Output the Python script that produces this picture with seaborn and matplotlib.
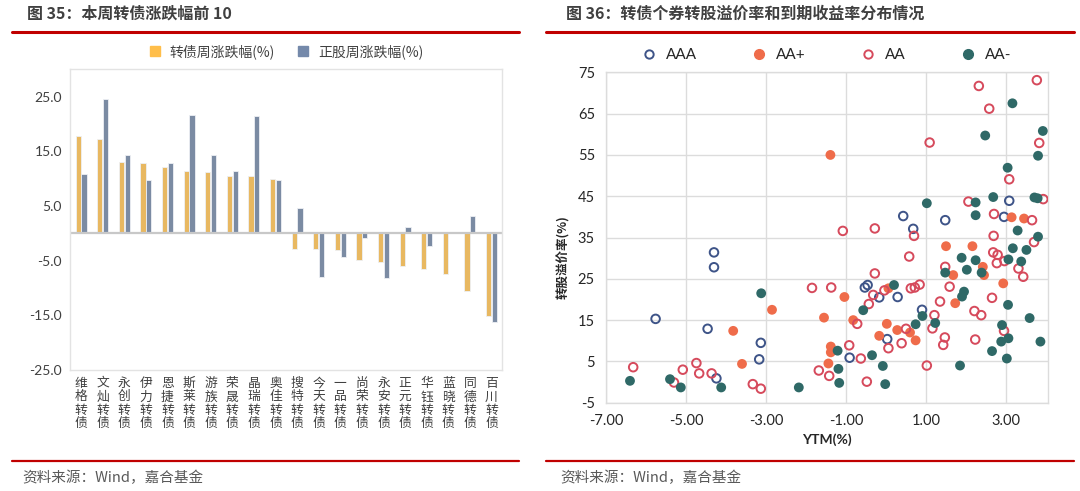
import matplotlib
matplotlib.use("Agg")
import matplotlib.pyplot as plt
from matplotlib.lines import Line2D
import numpy as np
import pandas as pd
import seaborn as sns

sns.set_style("white")
plt.rcParams["font.family"] = ["Noto Sans CJK SC", "DejaVu Sans"]

# ── Left chart data ─────────────────────────────────────────────────────────
bond_names = ["维格转债", "文灿转债", "永创转债", "伊力转债", "恩捷转债",
              "斯莱转债", "游族转债", "荣晟转债", "晶瑞转债", "奥佳转债",
              "搜特转债", "今天转债", "一品转债", "尚荣转债", "永安转债",
              "正元转债", "华钰转债", "蓝晓转债", "同德转债", "百川转债"]
cb_change = [17.8, 17.2, 13.0, 12.8, 12.1, 11.4, 11.2, 10.4, 10.4, 10.0,
             -2.8, -2.8, -3.0, -4.9, -5.2, -6.0, -6.5, -7.5, -10.5, -15.2]
stock_change = [10.8, 24.5, 14.3, 9.8, 12.8, 21.6, 14.4, 11.4, 21.5, 9.7,
                4.7, -8.0, -4.3, -0.9, -8.1, 1.2, -2.4, 0.3, 3.2, -16.2]
bar_series = ["转债周涨跌幅(%)", "正股周涨跌幅(%)"]
bar_colors = ["#FFBE4A", "#7489AA"]
left_yticks = [-25, -15, -5, 5, 15, 25]

# ── Right chart data ────────────────────────────────────────────────────────
aaa_x = [-4.30, -4.30, -5.76, -4.46, -4.24, -3.13, -3.17, -0.91, -0.53, -0.46,
         -0.17, 0.03, 0.29, 0.43, 0.68, 1.48, 0.90, 2.95, 3.08]
aaa_y = [31.4, 27.8, 15.3, 12.9, 0.9, 9.5, 5.5, 5.9, 22.9, 23.5,
         20.5, 10.4, 20.6, 40.2, 37.1, 39.2, 17.5, 40.0, 43.9]

aap_x = [-1.39, -3.82, -3.60, -2.85, -1.55, -1.04, -0.82, 0.02, -0.17, -1.38,
         -1.38, -1.44, 3.14, 3.45, 1.50, 2.16, 2.42, 1.68, 2.45, 0.06,
         2.93, 1.73, 0.28, 0.60, 0.74]
aap_y = [55.0, 12.4, 4.4, 17.5, 15.6, 20.6, 15.0, 14.1, 11.2, 8.6,
         7.2, 4.5, 39.9, 39.6, 32.9, 32.9, 27.9, 25.9, 25.9, 22.7,
         23.9, 19.1, 12.6, 12.0, 10.1]

aa_x = [-1.08, -0.28, 2.32, 3.77, 2.58, 1.09, 3.83, 3.08, 2.06, 2.70,
        3.65, 0.70, 2.69, 3.93, -6.32, -5.08, -4.74, -4.67, -4.36, -5.30,
        -0.28, -1.85, -1.37, -0.04, -0.32, -0.43, -0.72, 0.06, -0.92, -0.63,
        -1.68, -1.42, -0.48, -3.33, -3.13, 3.70, 0.58, 2.68, 2.79, 2.96,
        2.77, 1.48, 3.31, 3.43, 0.62, 0.72, 0.84, 1.59, 2.65, 1.35,
        2.21, 2.38, 1.21, 1.16, 0.50, 2.95, 1.47, 1.43, 2.23, 0.39, 1.02]
aa_y = [36.6, 37.2, 71.7, 73.1, 66.2, 58.0, 57.9, 49.1, 43.7, 40.7,
        39.2, 35.4, 35.4, 44.3, 3.6, 3.0, 4.6, 2.1, 2.1, -0.1,
        26.3, 22.8, 22.9, 22.2, 21.1, 18.9, 14.1, 8.2, 8.9, 5.7,
        2.8, 1.5, 0.1, -0.5, -1.6, 33.9, 30.4, 31.4, 30.8, 29.3,
        28.8, 27.9, 27.5, 25.5, 22.7, 22.9, 23.6, 23.1, 20.4, 19.5,
        17.2, 16.2, 16.2, 13.0, 12.9, 12.4, 10.8, 9.0, 10.3, 9.4, 4.0]

aam_x = [3.16, 2.48, 3.80, 3.04, 1.02, 2.24, 2.68, 3.71, 3.79, 2.24,
         3.29, 3.80, 3.92, -6.40, -5.40, -5.13, -4.12, -3.12, -0.57, -1.21,
         -0.35, -0.08, -1.19, -1.17, -0.02, -2.18, 3.17, 3.51, 1.89, 2.24,
         3.06, 3.38, 2.02, 1.48, 2.39, 0.20, 1.95, 1.90, 3.05, 0.91,
         3.59, 1.23, 0.74, 2.90, 2.88, 3.06, 3.86, 2.65, 3.02, 1.85]
aam_y = [67.5, 59.7, 54.8, 51.9, 43.3, 43.5, 44.8, 44.7, 44.5, 40.4,
         36.7, 35.2, 60.8, 0.3, 0.7, -1.3, -1.3, 21.5, 17.4, 7.6,
         6.5, 3.9, 3.2, -0.2, -0.5, -1.3, 32.4, 32.0, 30.1, 29.5,
         29.7, 29.2, 27.2, 26.5, 26.5, 23.5, 21.9, 20.7, 18.7, 16.0,
         15.5, 14.3, 14.0, 13.8, 9.8, 10.6, 9.8, 7.5, 5.7, 4.0]

right_xticks = [-7, -5, -3, -1, 1, 3]
right_yticks = [-5, 5, 15, 25, 35, 45, 55, 65, 75]

# ── Figure ──────────────────────────────────────────────────────────────────
fig = plt.figure(figsize=(10.8, 4.91), dpi=100)
fig.patch.set_facecolor("white")

title_color = "#404040"
red = "#C00000"
fig.text(0.025, 0.972, "图 35：本周转债涨跌幅前 10", fontsize=11.5,
         fontweight="bold", color=title_color, va="center")
fig.text(0.524, 0.972, "图 36：转债个券转股溢价率和到期收益率分布情况",
         fontsize=11.5, fontweight="bold", color=title_color, va="center")
for x0, x1 in [(0.011, 0.481), (0.506, 0.994)]:
    fig.add_artist(Line2D([x0, x1], [0.935, 0.935], color=red, lw=2.2))
    fig.add_artist(Line2D([x0, x1], [0.062, 0.062], color=red, lw=1.6))
fig.text(0.021, 0.026, "资料来源：Wind，嘉合基金", fontsize=10.5,
         color="#595959", va="center")
fig.text(0.519, 0.026, "资料来源：Wind，嘉合基金", fontsize=10.5,
         color="#595959", va="center")

# ── Left: bar chart ─────────────────────────────────────────────────────────
ax1 = fig.add_axes([0.0651, 0.2464, 0.40, 0.6124])
df_bar = pd.DataFrame({
    "name": bond_names * 2,
    "series": [bar_series[0]] * len(bond_names) + [bar_series[1]] * len(bond_names),
    "value": cb_change + stock_change,
})
sns.barplot(data=df_bar, x="name", y="value", hue="series",
            hue_order=bar_series, palette=bar_colors, order=bond_names,
            width=0.55, gap=0.12, edgecolor="#EEF0F4", linewidth=0.6,
            ax=ax1, legend=False)
ax1.set_ylim(-25, 30)
ax1.set_yticks(left_yticks)
ax1.set_yticklabels([f"{v:.1f}" for v in left_yticks], fontsize=10,
                    color="#404040", family=["Lato", "DejaVu Sans"])
ax1.set_xticks(range(len(bond_names)))
ax1.set_xticklabels(["\n".join(n) for n in bond_names], fontsize=9.2,
                    color="#404040", linespacing=1.05, va="top")
ax1.tick_params(length=0, pad=6)
ax1.tick_params(axis="x", pad=5)
ax1.axhline(0, color="#C8C8C8", lw=1.6, zorder=1)
ax1.set_xlabel("")
ax1.set_ylabel("")
for sp in ax1.spines.values():
    sp.set_color("#E3E3E3")
    sp.set_linewidth(1.0)
handles = [Line2D([], [], marker="s", ls="", ms=7, color=c) for c in bar_colors]
ax1.legend(handles, bar_series, ncol=2, frameon=False, loc="center",
           bbox_to_anchor=(0.49, 1.058), fontsize=10, handletextpad=0.1,
           columnspacing=1.0, labelcolor="#404040")

# ── Right: scatter ──────────────────────────────────────────────────────────
ax2 = fig.add_axes([0.5611, 0.1798, 0.4093, 0.6729])
navy = "#3E5488"
orange = "#EF6C4A"
crimson = "#D64A5C"
teal = "#2F6967"
sns.scatterplot(x=aaa_x, y=aaa_y, ax=ax2, marker="o", s=38,
                facecolor="none", edgecolor=navy, linewidth=1.4, zorder=3)
sns.scatterplot(x=aap_x, y=aap_y, ax=ax2, marker="o", s=50,
                color=orange, edgecolor="none", zorder=3)
sns.scatterplot(x=aa_x, y=aa_y, ax=ax2, marker="o", s=38,
                facecolor="none", edgecolor=crimson, linewidth=1.4, zorder=3)
sns.scatterplot(x=aam_x, y=aam_y, ax=ax2, marker="o", s=50,
                color=teal, edgecolor="none", zorder=3)
ax2.set_xlim(-7, 4.05)
ax2.set_ylim(-5, 75)
ax2.set_xticks(right_xticks)
ax2.set_xticklabels([f"{v:.2f}" for v in right_xticks], fontsize=10.5,
                    color="#262626", family=["Lato", "DejaVu Sans"])
ax2.set_yticks(right_yticks)
ax2.set_yticklabels([str(v) for v in right_yticks], fontsize=10.5,
                    color="#262626", family=["Lato", "DejaVu Sans"])
ax2.tick_params(length=0, pad=8)
ax2.grid(True, color="#DCDCDC", lw=1.0, zorder=0)
ax2.set_axisbelow(True)
for sp in ax2.spines.values():
    sp.set_color("#DCDCDC")
    sp.set_linewidth(1.0)
ax2.set_xlabel("YTM(%)", fontsize=10, fontweight="bold", color="#262626",
               labelpad=4, family=["Lato", "DejaVu Sans"])
ax2.set_ylabel("转股溢价率(%)", fontsize=9, fontweight="bold", color="#262626")
ax2.yaxis.set_label_coords(-0.082, 0.44)
leg_handles = [
    Line2D([], [], marker="o", ls="", ms=6, mfc="none", mec=navy, mew=1.4),
    Line2D([], [], marker="o", ls="", ms=7, mfc=orange, mec=orange),
    Line2D([], [], marker="o", ls="", ms=6, mfc="none", mec=crimson, mew=1.4),
    Line2D([], [], marker="o", ls="", ms=7, mfc=teal, mec=teal),
]
ax2.legend(leg_handles, ["AAA", "AA+", "AA", "AA-"], ncol=4, frameon=False,
           loc="center", bbox_to_anchor=(0.49, 1.052),
           handletextpad=0.1, columnspacing=3.1, labelcolor="#262626",
           prop={"family": ["Lato", "DejaVu Sans"], "size": 11})

fig.savefig("out.png", dpi=100)
